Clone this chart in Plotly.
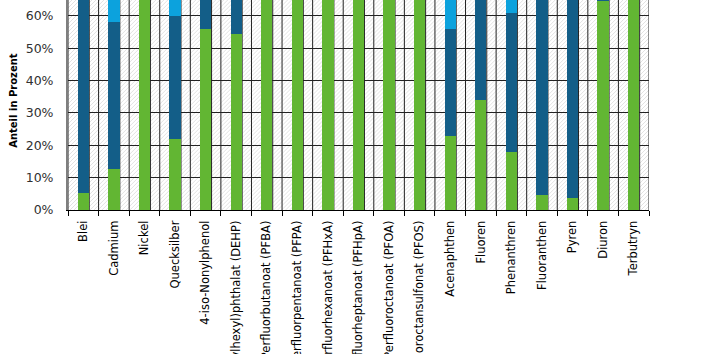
import base64
import plotly.graph_objects as go

categories = ["Blei", "Cadmium", "Nickel", "Quecksilber", "4-iso-Nonylphenol",
              "Di(2-ethylhexyl)phthalat (DEHP)", "Perfluorbutanoat (PFBA)",
              "Perfluorpentanoat (PFPA)", "Perfluorhexanoat (PFHxA)",
              "Perfluorheptanoat (PFHpA)", "Perfluoroctanoat (PFOA)",
              "Perfluoroctansulfonat (PFOS)", "Acenaphthen", "Fluoren",
              "Phenanthren", "Fluoranthen", "Pyren", "Diuron", "Terbutryn"]

green_vals = [5.3, 12.8, 100, 22.0, 55.9, 54.4, 100, 100, 100, 100, 100, 100,
              23.0, 34.0, 18.0, 4.7, 3.8, 64.6, 100]
dark_vals = [90.0, 45.4, 0, 38.0, 44.1, 45.6, 0, 0, 0, 0, 0, 0,
             33.0, 66.0, 43.0, 95.3, 96.2, 35.4, 0]
light_vals = [4.7, 41.8, 0, 40.0, 0, 0, 0, 0, 0, 0, 0, 0,
              44.0, 0, 39.0, 0, 0, 0, 0]

GREEN = "#62b633"
DARK = "#135e88"
LIGHT = "#0ca2dd"
GRID = "#222222"
BAR_W = 0.37

fig = go.Figure()
for vals, col, name in [(green_vals, GREEN, "g"), (dark_vals, DARK, "d"), (light_vals, LIGHT, "l")]:
    fig.add_trace(go.Bar(x=categories, y=[v / 100 for v in vals], name=name,
                         marker=dict(color=col, line=dict(width=0)), width=BAR_W))

# hatched plot background
W, H = 582, 210
svg = (f'<svg xmlns="http://www.w3.org/2000/svg" width="{W}" height="{H}">'
       '<defs><pattern id="h" patternUnits="userSpaceOnUse" width="4" height="4">'
       '<rect width="4" height="4" fill="#ffffff"/>'
       '<path d="M-1,1 l2,-2 M0,4 l4,-4 M3,5 l2,-2" stroke="#dadada" stroke-width="0.8"/>'
       '</pattern></defs>'
       f'<rect width="{W}" height="{H}" fill="url(#h)"/></svg>')
src = "data:image/svg+xml;base64," + base64.b64encode(svg.encode()).decode()

shapes = []
n = len(categories)
for i in range(n + 1):
    shapes.append(dict(type="line", xref="x", yref="paper", x0=i - 0.5, x1=i - 0.5,
                       y0=0, y1=1, line=dict(color=GRID, width=1), layer="below"))
for i in range(n):
    xr = i + BAR_W / 2 + 0.01
    shapes.append(dict(type="line", xref="x", yref="paper", x0=xr, x1=xr,
                       y0=0, y1=1, line=dict(color=GRID, width=1), layer="below"))

fig.update_layout(
    width=707, height=354,
    margin=dict(l=68, r=58, t=0, b=144),
    barmode="stack",
    bargap=0.63,
    showlegend=False,
    plot_bgcolor="white",
    paper_bgcolor="white",
    font=dict(family="DejaVu Sans, Verdana, sans-serif", color="#000000"),
    images=[dict(source=src, xref="paper", yref="paper", x=0, y=1, sizex=1, sizey=1,
                 xanchor="left", yanchor="top", sizing="stretch", layer="below")],
    shapes=shapes,
    annotations=[dict(text="<b>Anteil in Prozent</b>", xref="paper", yref="paper",
                      x=-(68 - 14) / 581, y=0.52, xanchor="center", yanchor="middle",
                      textangle=-90, showarrow=False,
                      font=dict(size=10, color="#000000"))],
)
fig.update_xaxes(
    type="category", range=[-0.5, n - 0.5], showgrid=False,
    tickson="boundaries", ticks="outside", ticklen=5, tickcolor="#000000",
    showline=True, linecolor="#000000", linewidth=1,
    tickangle=-90, ticklabelstandoff=5,
    tickfont=dict(size=11.5, color="#000000"), automargin=False,
)
fig.update_yaxes(
    range=[0, 0.649], dtick=0.1, tick0=0, tickformat=".0%",
    showgrid=True, gridcolor=GRID, gridwidth=1, zeroline=False,
    showline=True, linecolor="#7f7f7f", linewidth=2,
    ticks="outside", ticklen=10, tickcolor="rgba(0,0,0,0)",
    tickfont=dict(size=12.5, color="#303030"), automargin=False,
)

fig.write_html("out.html")
